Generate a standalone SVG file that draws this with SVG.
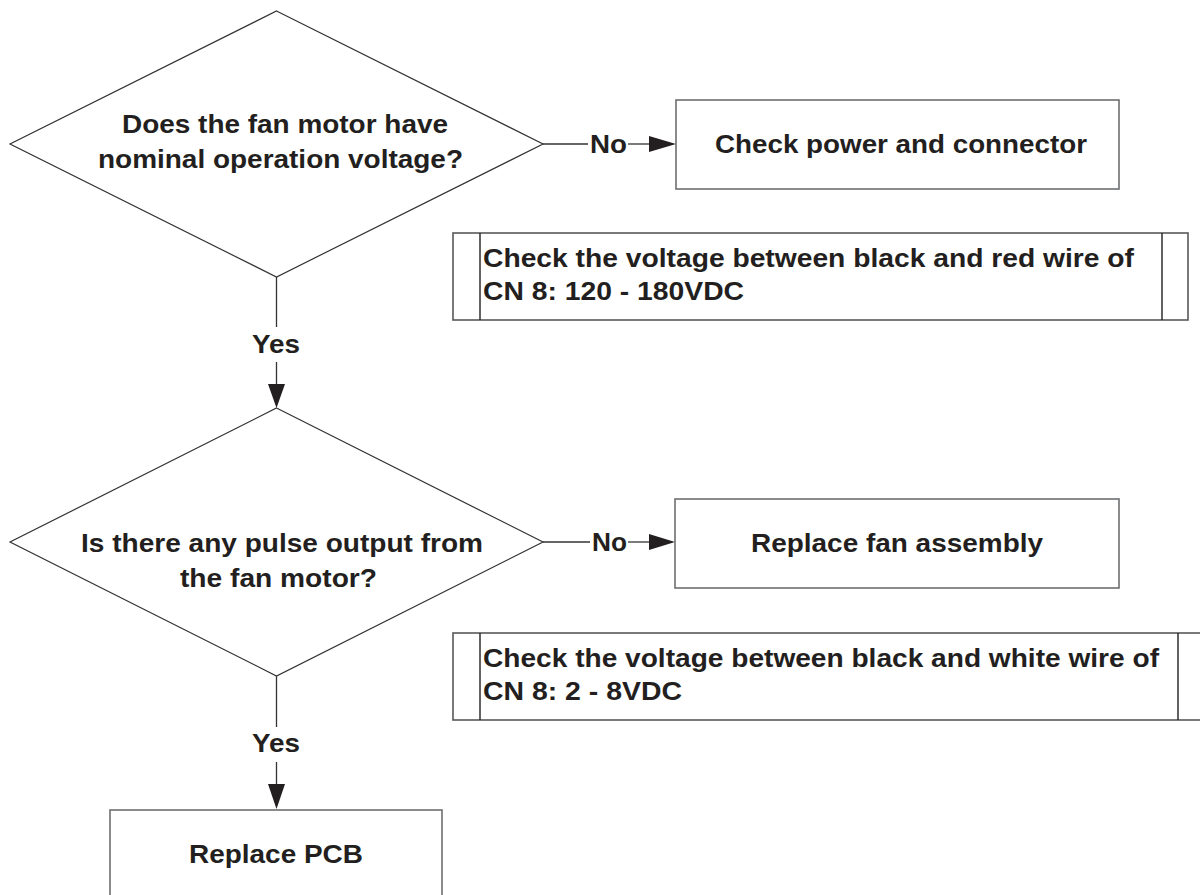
<svg xmlns="http://www.w3.org/2000/svg" width="1200" height="895" viewBox="0 0 1200 895">
<style>
  .t { font-family: "Liberation Sans", Arial, sans-serif; font-weight: bold; font-size: 25.5px; fill: #231f20; }
  .dia { fill: #fff; stroke: #333; stroke-width: 1.2; }
  .box { fill: #fff; stroke: #6d6e70; stroke-width: 1.6; }
  .note { fill: #fff; stroke: #58595b; stroke-width: 1.6; }
  .noteline { stroke: #231f20; stroke-width: 1.4; }
  .edge { stroke: #333; stroke-width: 1.3; fill: none; }
  .head { fill: #231f20; stroke: none; }
</style>
<rect width="1200" height="895" fill="#fff"/>

<g id="connectors">
  <!-- D1 -> Check power (No) -->
  <line class="edge" x1="543" y1="144" x2="588" y2="144"/>
  <line class="edge" x1="628" y1="144" x2="650" y2="144"/>
  <polygon class="head" points="649,136 676,144 649,152"/>
  <text class="t" x="590" y="153" textLength="37" lengthAdjust="spacingAndGlyphs">No</text>
  <!-- D1 -> D2 (Yes) -->
  <line class="edge" x1="276.5" y1="277" x2="276.5" y2="327"/>
  <line class="edge" x1="276.5" y1="362" x2="276.5" y2="386"/>
  <polygon class="head" points="268,384 285,384 276.5,408"/>
  <text class="t" x="252" y="353" textLength="48" lengthAdjust="spacingAndGlyphs">Yes</text>
  <!-- D2 -> Replace fan (No) -->
  <line class="edge" x1="543" y1="542" x2="590" y2="542"/>
  <line class="edge" x1="628" y1="542" x2="650" y2="542"/>
  <polygon class="head" points="649,534 675,542 649,550"/>
  <text class="t" x="592" y="551" textLength="35" lengthAdjust="spacingAndGlyphs">No</text>
  <!-- D2 -> Replace PCB (Yes) -->
  <line class="edge" x1="276.5" y1="676" x2="276.5" y2="727"/>
  <line class="edge" x1="276.5" y1="762" x2="276.5" y2="786"/>
  <polygon class="head" points="268,784 285,784 276.5,809"/>
  <text class="t" x="252" y="752" textLength="48" lengthAdjust="spacingAndGlyphs">Yes</text>
</g>

<g id="decision1">
  <polygon class="dia" points="276.5,11 543,144 276.5,277 10,144"/>
  <text class="t" x="122" y="133" textLength="326" lengthAdjust="spacingAndGlyphs">Does the fan motor have</text>
  <text class="t" x="98" y="168" textLength="365" lengthAdjust="spacingAndGlyphs">nominal operation voltage?</text>
</g>

<g id="check-power">
  <rect class="box" x="676" y="100" width="443" height="89"/>
  <text class="t" x="715" y="153" textLength="372" lengthAdjust="spacingAndGlyphs">Check power and connector</text>
</g>

<g id="note1">
  <rect class="note" x="453" y="233" width="735" height="87"/>
  <line class="noteline" x1="480" y1="233" x2="480" y2="320"/>
  <line class="noteline" x1="1162" y1="233" x2="1162" y2="320"/>
  <text class="t" x="483" y="267" textLength="651" lengthAdjust="spacingAndGlyphs">Check the voltage between black and red wire of</text>
  <text class="t" x="483" y="300" textLength="261" lengthAdjust="spacingAndGlyphs">CN 8: 120 - 180VDC</text>
</g>

<g id="decision2">
  <polygon class="dia" points="276.5,408 543,542 276.5,676 10,542"/>
  <text class="t" x="81" y="552" textLength="402" lengthAdjust="spacingAndGlyphs">Is there any pulse output from</text>
  <text class="t" x="180" y="587" textLength="197" lengthAdjust="spacingAndGlyphs">the fan motor?</text>
</g>

<g id="replace-fan">
  <rect class="box" x="675" y="499" width="444" height="89"/>
  <text class="t" x="751" y="552" textLength="292" lengthAdjust="spacingAndGlyphs">Replace fan assembly</text>
</g>

<g id="note2">
  <rect class="note" x="453" y="633" width="760" height="87"/>
  <line class="noteline" x1="480" y1="633" x2="480" y2="720"/>
  <line class="noteline" x1="1178" y1="633" x2="1178" y2="720"/>
  <text class="t" x="483" y="667" textLength="676" lengthAdjust="spacingAndGlyphs">Check the voltage between black and white wire of</text>
  <text class="t" x="483" y="700" textLength="199" lengthAdjust="spacingAndGlyphs">CN 8: 2 - 8VDC</text>
</g>

<g id="replace-pcb">
  <rect class="box" x="110" y="810" width="332" height="100"/>
  <text class="t" x="189" y="863" textLength="174" lengthAdjust="spacingAndGlyphs">Replace PCB</text>
</g>
</svg>
